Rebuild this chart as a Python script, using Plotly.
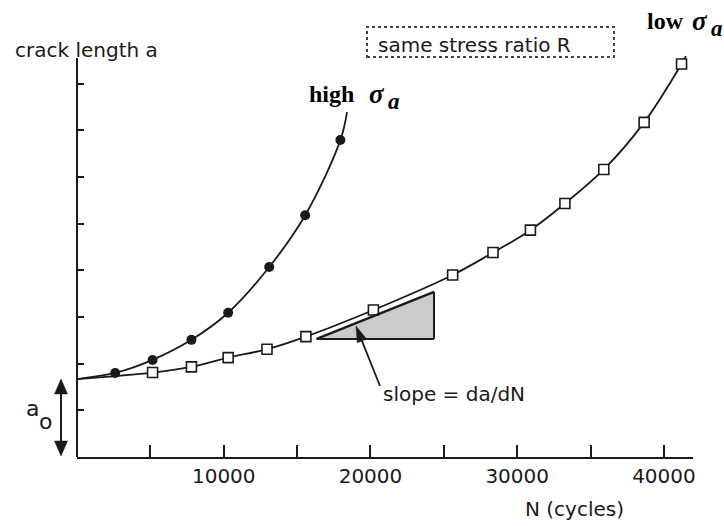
import math
import plotly.graph_objects as go

# Crack length a versus load cycles N for two stress amplitudes (same R)
a0 = 1.67
high_N = [2600, 5150, 7800, 10300, 13100, 15550, 17950]
high_a = [1.80, 2.08, 2.51, 3.09, 4.07, 5.18, 6.79]
low_N = [5150, 7800, 10300, 12950, 15600, 20200, 25600, 28350, 30900, 33250, 35900, 38650, 41200]
low_a = [1.81, 1.93, 2.13, 2.31, 2.58, 3.15, 3.90, 4.38, 4.86, 5.43, 6.16, 7.17, 8.42]
# the fitted curves run on a little past the last measurement
high_end_N, high_end_a = 18400, 7.39
low_end_N, low_end_a = 41500, 8.59

x_label_ticks = [10000, 20000, 30000, 40000]
x_minor_ticks = [5000, 15000, 25000, 35000]
y_ticks = [1, 2, 3, 4, 5, 6, 7, 8]

# ---- figure geometry ----
W, H = 724, 526
ML, MR, MT, MB = 77, 31, 50, 69
PW, PH = W - ML - MR, H - MT - MB
X_RANGE = [0, 41980]
Y_RANGE = [0, 8.72]


def px_x(px):
    return (px - ML) / PW


def px_y(py):
    return (H - MB - py) / PH


def arrow_shapes(tail, tip, head_len, head_w, width, color):
    """Line plus filled arrowhead, given screen positions in pixels."""
    (x0, y0), (x1, y1) = tail, tip
    d = math.hypot(x1 - x0, y1 - y0)
    ux, uy = (x1 - x0) / d, (y1 - y0) / d
    bx, by = x1 - head_len * ux, y1 - head_len * uy
    px, py = -uy * head_w / 2, ux * head_w / 2
    pts = [(x1, y1), (bx + px, by + py), (bx - px, by - py)]
    path = "M" + " L".join(f"{px_x(a):.5f},{px_y(b):.5f}" for a, b in pts) + " Z"
    return [
        dict(type="line", xref="paper", yref="paper",
             x0=px_x(x0), y0=px_y(y0), x1=px_x(bx), y1=px_y(by),
             line=dict(color=color, width=width)),
        dict(type="path", xref="paper", yref="paper", path=path,
             fillcolor=color, line=dict(color=color, width=0.5)),
    ]


INK = "#1a1a1a"
SANS = "DejaVu Sans"
SERIF = "Liberation Serif"

fig = go.Figure()

# smooth growth curves, starting from the initial crack length a0
fig.add_trace(go.Scatter(
    x=[0] + high_N + [high_end_N], y=[a0] + high_a + [high_end_a],
    mode="lines", line=dict(color=INK, width=1.8, shape="spline", smoothing=1.0),
    hoverinfo="skip", showlegend=False))
fig.add_trace(go.Scatter(
    x=[0] + low_N + [low_end_N], y=[a0] + low_a + [low_end_a],
    mode="lines", line=dict(color=INK, width=1.8, shape="spline", smoothing=1.0),
    hoverinfo="skip", showlegend=False))

# measured points
fig.add_trace(go.Scatter(
    x=high_N, y=high_a, mode="markers",
    marker=dict(symbol="circle", size=10, color=INK, line=dict(width=0)),
    showlegend=False))
fig.add_trace(go.Scatter(
    x=low_N, y=low_a, mode="markers",
    marker=dict(symbol="square", size=10, color="white", line=dict(color=INK, width=1.6)),
    showlegend=False, cliponaxis=False))

# tangent triangle illustrating da/dN
tx0, tx1 = 16330, 24330
ty0, ty1 = 2.53, 3.54
shapes = [
    dict(type="path", xref="x", yref="y",
         path=f"M{tx0},{ty0} L{tx1},{ty0} L{tx1},{ty1} Z",
         fillcolor="#cbcbcb", line=dict(width=0), layer="below"),
    dict(type="line", xref="x", yref="y", x0=tx0, y0=ty0, x1=tx1, y1=ty0,
         line=dict(color=INK, width=2)),
    dict(type="line", xref="x", yref="y", x0=tx1, y0=ty0, x1=tx1, y1=ty1,
         line=dict(color=INK, width=2)),
    dict(type="line", xref="x", yref="y", x0=tx0, y0=ty0, x1=tx1, y1=ty1,
         line=dict(color=INK, width=2.4)),
    # vertical axis line (stops a little below the top of the plot area)
    dict(type="line", xref="paper", yref="paper", x0=px_x(77), x1=px_x(77),
         y0=0, y1=px_y(58), line=dict(color=INK, width=2)),
    # dotted frame around the note
    dict(type="rect", xref="paper", yref="paper",
         x0=px_x(367), x1=px_x(614), y0=px_y(57), y1=px_y(27),
         line=dict(color="#444444", width=2, dash="dot")),
]
# arrow pointing at the tangent
shapes += arrow_shapes((380, 386), (356, 326), 16, 10, 1.8, INK)
# double arrow marking the initial crack length a0
shapes += arrow_shapes((61, 418), (61, 379), 15, 13, 2, INK)
shapes += arrow_shapes((61, 418), (61, 456), 15, 13, 2, INK)


def text_ann(px, py, text, family, size, anchor="left", color=INK):
    return dict(xref="paper", yref="paper", x=px_x(px), y=px_y(py),
                xanchor=anchor, yanchor="middle", text=text, showarrow=False,
                font=dict(family=family, size=size, color=color))


annotations = [
    text_ann(13, 50, "crack length a", SANS, 20),
    text_ann(376, 45, "same stress ratio R", SANS, 20),
    # amplitude labels: word, sigma, subscript a
    text_ann(307, 94, "<b>high</b>", SERIF, 24, color="black"),
    text_ann(367, 94, "<b><i>σ</i></b>", SERIF, 27, color="black"),
    text_ann(386, 101, "<b><i>a</i></b>", SERIF, 23, color="black"),
    text_ann(645, 21, "<b>low</b>", SERIF, 24, color="black"),
    text_ann(690, 21, "<b><i>σ</i></b>", SERIF, 27, color="black"),
    text_ann(709, 28, "<b><i>a</i></b>", SERIF, 23, color="black"),
    text_ann(381, 394, "slope = da/dN", SANS, 20),
    text_ann(574, 509, "N (cycles)", SANS, 20, anchor="center"),
    text_ann(32, 408, "a", SANS, 22, anchor="center"),
    text_ann(45, 421, "o", SANS, 22, anchor="center"),
]

fig.update_layout(
    width=W, height=H,
    margin=dict(l=ML, r=MR, t=MT, b=MB, pad=0),
    paper_bgcolor="white", plot_bgcolor="white",
    shapes=shapes, annotations=annotations,
    showlegend=False,
    xaxis=dict(range=X_RANGE, showgrid=False, zeroline=False,
               showline=True, linecolor=INK, linewidth=2,
               tickmode="array", tickvals=x_label_ticks,
               ticktext=[str(v) for v in x_label_ticks],
               ticks="inside", ticklen=12, tickwidth=2, tickcolor=INK,
               tickfont=dict(family=SANS, size=20, color=INK),
               minor=dict(tickmode="array", tickvals=x_minor_ticks, ticks="inside",
                          ticklen=12, tickwidth=2, tickcolor=INK, showgrid=False)),
    yaxis=dict(range=Y_RANGE, showgrid=False, zeroline=False, showline=False,
               tickmode="array", tickvals=y_ticks, ticks="inside", ticklen=7,
               tickwidth=2, tickcolor=INK, showticklabels=False),
)

fig.write_html("out.html")
